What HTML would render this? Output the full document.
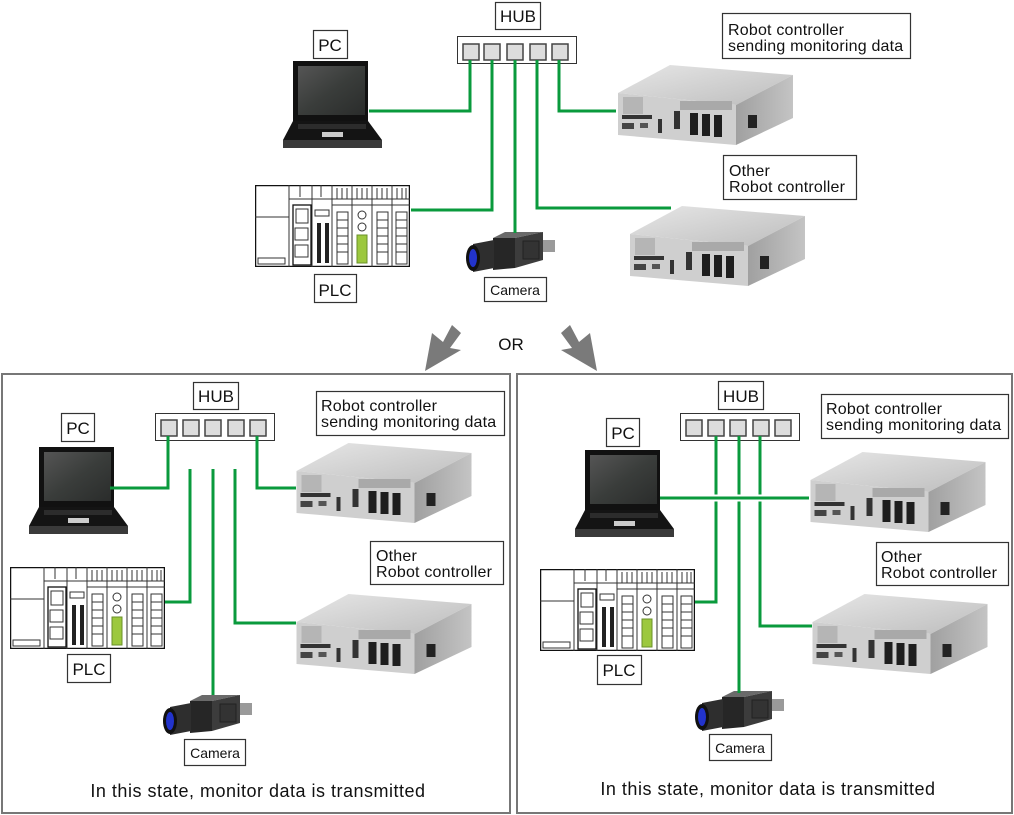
<!DOCTYPE html>
<html><head><meta charset="utf-8"><style>
html,body{margin:0;padding:0;background:#fff;}
svg{display:block;}
text{font-family:"Liberation Sans",sans-serif;fill:#111;}
</style></head><body>
<svg width="1014" height="815" viewBox="0 0 1014 815" xmlns="http://www.w3.org/2000/svg">
<defs>
<linearGradient id="gtop" x1="0" y1="0" x2="1" y2="1"><stop offset="0" stop-color="#e6e6e6"/><stop offset="1" stop-color="#bdbdbd"/></linearGradient>
<linearGradient id="gside" x1="0" y1="0" x2="1" y2="0"><stop offset="0" stop-color="#a0a0a0"/><stop offset="1" stop-color="#c4c4c4"/></linearGradient>
<linearGradient id="gscr" x1="0" y1="0" x2="1" y2="1"><stop offset="0" stop-color="#555"/><stop offset="0.5" stop-color="#3a3d3b"/><stop offset="1" stop-color="#2a2c2b"/></linearGradient>
<symbol id="robot" viewBox="0 0 175 82">
<polygon points="0,30 52,2 175,12 118,42" fill="url(#gtop)"/>
<polygon points="0,30 118,42 118,82 0,72" fill="#cfcfcf"/>
<polygon points="118,42 175,12 175,55 118,82" fill="url(#gside)"/>
<rect x="5" y="34" width="20" height="17" fill="#b5b5b5"/>
<rect x="62" y="38" width="52" height="9" fill="#a9a9a9"/>
<rect x="4" y="52" width="30" height="4" fill="#333"/>
<rect x="4" y="60" width="12" height="6" fill="#444"/>
<rect x="22" y="60" width="8" height="5" fill="#555"/>
<rect x="40" y="56" width="4" height="14" fill="#333"/>
<rect x="56" y="48" width="6" height="18" fill="#333"/>
<rect x="72" y="50" width="8" height="22" fill="#1e1e1e"/>
<rect x="84" y="51" width="8" height="22" fill="#1e1e1e"/>
<rect x="96" y="52" width="8" height="22" fill="#1e1e1e"/>
<rect x="130" y="52" width="9" height="13" fill="#222"/>
</symbol>
<symbol id="laptop" viewBox="0 0 104 90">
<rect x="13" y="3" width="75" height="60" fill="#111"/>
<rect x="18" y="8" width="67" height="49" fill="url(#gscr)"/>
<polygon points="13,63 88,63 102,82 3,82" fill="#141414"/>
<rect x="3" y="82" width="99" height="8" fill="#3a3a3a"/>
<rect x="42" y="74" width="21" height="5" fill="#ccc"/>
<rect x="18" y="66" width="68" height="5" fill="#2c2c2c"/>
</symbol>
<symbol id="plc" viewBox="0 0 155 82">
<rect x="0.5" y="0.5" width="154" height="81" fill="#fff" stroke="#111" stroke-width="1.5"/>
<g stroke="#333" stroke-width="1" fill="none">
<line x1="34" y1="0" x2="34" y2="82"/><line x1="57" y1="0" x2="57" y2="82"/><line x1="77" y1="0" x2="77" y2="82"/><line x1="97" y1="0" x2="97" y2="82"/><line x1="117" y1="0" x2="117" y2="82"/><line x1="137" y1="0" x2="137" y2="82"/>
<line x1="0" y1="32" x2="34" y2="32"/><rect x="3" y="73" width="27" height="6"/>
<line x1="34" y1="14" x2="155" y2="14"/><line x1="77" y1="20" x2="155" y2="20"/>
<line x1="45" y1="0" x2="45" y2="12"/><line x1="66" y1="0" x2="66" y2="12"/>
<line x1="82" y1="3" x2="82" y2="14"/><line x1="87" y1="3" x2="87" y2="14"/><line x1="92" y1="3" x2="92" y2="14"/><line x1="102" y1="3" x2="102" y2="14"/><line x1="107" y1="3" x2="107" y2="14"/><line x1="112" y1="3" x2="112" y2="14"/><line x1="122" y1="3" x2="122" y2="14"/><line x1="127" y1="3" x2="127" y2="14"/><line x1="132" y1="3" x2="132" y2="14"/><line x1="142" y1="3" x2="142" y2="14"/><line x1="147" y1="3" x2="147" y2="14"/><line x1="151" y1="3" x2="151" y2="14"/>
<rect x="38" y="20" width="18" height="60" stroke="#111" stroke-width="1.3"/>
<rect x="41" y="24" width="12" height="14"/><rect x="40" y="43" width="13" height="12"/><rect x="40" y="60" width="13" height="12"/>
<rect x="60" y="25" width="14" height="6"/>
<rect x="82" y="27" width="11" height="52"/><rect x="122" y="27" width="11" height="52"/><rect x="141" y="27" width="11" height="52"/>
<path d="M82 35h11M82 43h11M82 51h11M82 59h11M82 67h11M122 35h11M122 43h11M122 51h11M122 59h11M122 67h11M141 35h11M141 43h11M141 51h11M141 59h11M141 67h11"/>
<circle cx="107" cy="30" r="4"/><circle cx="107" cy="42" r="4"/>
</g>
<rect x="62" y="38" width="4" height="40" fill="#222"/><rect x="70" y="38" width="4" height="40" fill="#222"/>
<rect x="102" y="50" width="10" height="28" fill="#9cc83e" stroke="#6a8f2a"/>
</symbol>
<symbol id="cam" viewBox="0 0 93 40">
<polygon points="30,6 42,0 80,0 52,6" fill="#6a6a6a"/>
<polygon points="52,6 80,0 80,28 52,36" fill="#3c3c3c"/>
<polygon points="30,6 52,6 52,36 30,38" fill="#262626"/>
<rect x="60" y="9" width="16" height="18" fill="#333" stroke="#222"/>
<rect x="80" y="8" width="12" height="12" fill="#9a9a9a"/>
<polygon points="10,12 31,8 31,36 10,40" fill="#2e2e2e"/>
<ellipse cx="10" cy="26" rx="7" ry="13" fill="#111"/>
<ellipse cx="10" cy="26" rx="4" ry="9" fill="#2233cc"/>
</symbol>
</defs>

<g fill="#fff" stroke="#333" stroke-width="1.2">
<rect x="495.5" y="2.5" width="45" height="27"/>
<rect x="313.5" y="30.5" width="34" height="28"/>
<rect x="314.5" y="274.5" width="42" height="28"/>
<rect x="484.5" y="277.5" width="62" height="24"/>
<rect x="722.5" y="13.5" width="188" height="45"/>
<rect x="723.5" y="155.5" width="133" height="44"/>
</g>
<text x="518" y="22" font-size="17" text-anchor="middle">HUB</text>
<text x="330" y="51" font-size="17" text-anchor="middle">PC</text>
<text x="335" y="296" font-size="17" text-anchor="middle">PLC</text>
<text x="515" y="295" font-size="14" text-anchor="middle">Camera</text>
<text x="728" y="35" font-size="16" letter-spacing="0.2">Robot controller</text>
<text x="728" y="51" font-size="16" letter-spacing="0.2">sending monitoring data</text>
<text x="729" y="176" font-size="16" letter-spacing="0.2">Other</text>
<text x="729" y="192" font-size="16" letter-spacing="0.2">Robot controller</text>

<rect x="457.5" y="36.5" width="119" height="27" fill="#fff" stroke="#333"/>
<g fill="#ddd" stroke="#444" stroke-width="1.5">
<rect x="463" y="44" width="16" height="16"/><rect x="484" y="44" width="16" height="16"/><rect x="507" y="44" width="16" height="16"/><rect x="530" y="44" width="16" height="16"/><rect x="552" y="44" width="16" height="16"/>
</g>
<use href="#laptop" x="280" y="58" width="104" height="90"/>
<use href="#plc" x="255" y="185" width="155" height="82"/>
<use href="#cam" x="463" y="232" width="93" height="40"/>
<use href="#robot" x="618" y="63" width="175" height="82"/>
<use href="#robot" x="630" y="204" width="175" height="82"/>
<g stroke="#0a9a3c" stroke-width="3" fill="none">
<polyline points="470,60 470,111 369,111"/>
<polyline points="492,60 492,210 411,210"/>
<polyline points="515,60 515,233"/>
<polyline points="537,60 537,208 671,208"/>
<polyline points="559,60 559,111 616,111"/>
</g>

<polygon points="425,371 432,333 443,342 452,325 461,333 450,348 461,350" fill="#7a7a7a"/>
<polygon points="597,371 590,333 579,342 570,325 561,333 572,348 561,350" fill="#7a7a7a"/>
<text x="511" y="350" font-size="17" text-anchor="middle">OR</text>

<rect x="2" y="374" width="508" height="439" fill="none" stroke="#777" stroke-width="2"/>
<rect x="517" y="374" width="495" height="439" fill="none" stroke="#777" stroke-width="2"/>

<!-- left panel -->
<g fill="#fff" stroke="#333" stroke-width="1.2">
<rect x="193.5" y="382.5" width="45" height="27"/>
<rect x="61.5" y="413.5" width="33" height="28"/>
<rect x="67.5" y="654.5" width="43" height="28"/>
<rect x="184.5" y="739.5" width="61" height="26"/>
<rect x="316.5" y="391.5" width="188" height="44"/>
<rect x="370.5" y="541.5" width="133" height="43"/>
</g>
<text x="216" y="402" font-size="17" text-anchor="middle">HUB</text>
<text x="78" y="434" font-size="17" text-anchor="middle">PC</text>
<text x="89" y="675" font-size="17" text-anchor="middle">PLC</text>
<text x="215" y="758" font-size="14" text-anchor="middle">Camera</text>
<text x="321" y="411" font-size="16" letter-spacing="0.2">Robot controller</text>
<text x="321" y="427" font-size="16" letter-spacing="0.2">sending monitoring data</text>
<text x="376" y="561" font-size="16" letter-spacing="0.2">Other</text>
<text x="376" y="577" font-size="16" letter-spacing="0.2">Robot controller</text>
<text x="258" y="797" font-size="18" letter-spacing="0.5" text-anchor="middle">In this state, monitor data is transmitted</text>
<rect x="155.5" y="413.5" width="119" height="27" fill="#fff" stroke="#333"/>
<g fill="#ddd" stroke="#444" stroke-width="1.5">
<rect x="161" y="420" width="16" height="16"/><rect x="183" y="420" width="16" height="16"/><rect x="205" y="420" width="16" height="16"/><rect x="228" y="420" width="16" height="16"/><rect x="250" y="420" width="16" height="16"/>
</g>
<use href="#laptop" x="26" y="444" width="104" height="90"/>
<use href="#plc" x="10" y="567" width="155" height="82"/>
<use href="#cam" x="160" y="695" width="93" height="40"/>
<use href="#robot" x="295" y="441" width="178" height="82"/>
<use href="#robot" x="295" y="592" width="178" height="82"/>
<g stroke="#0a9a3c" stroke-width="3" fill="none">
<polyline points="168,436 168,488 110,488"/>
<polyline points="257,436 257,488 296,488"/>
<polyline points="190,469 190,602 165,602"/>
<polyline points="213,469 213,695"/>
<polyline points="235,469 235,623 296,623"/>
</g>

<!-- right panel -->
<g fill="#fff" stroke="#333" stroke-width="1.2">
<rect x="718.5" y="381.5" width="45" height="28"/>
<rect x="606.5" y="418.5" width="33" height="28"/>
<rect x="597.5" y="655.5" width="44" height="29"/>
<rect x="709.5" y="734.5" width="62" height="26"/>
<rect x="821.5" y="394.5" width="187" height="44"/>
<rect x="876.5" y="542.5" width="132" height="43"/>
</g>
<text x="741" y="402" font-size="17" text-anchor="middle">HUB</text>
<text x="623" y="439" font-size="17" text-anchor="middle">PC</text>
<text x="619" y="676" font-size="17" text-anchor="middle">PLC</text>
<text x="740" y="753" font-size="14" text-anchor="middle">Camera</text>
<text x="826" y="414" font-size="16" letter-spacing="0.2">Robot controller</text>
<text x="826" y="430" font-size="16" letter-spacing="0.2">sending monitoring data</text>
<text x="881" y="562" font-size="16" letter-spacing="0.2">Other</text>
<text x="881" y="578" font-size="16" letter-spacing="0.2">Robot controller</text>
<text x="768" y="795" font-size="18" letter-spacing="0.5" text-anchor="middle">In this state, monitor data is transmitted</text>
<rect x="680.5" y="413.5" width="119" height="27" fill="#fff" stroke="#333"/>
<g fill="#ddd" stroke="#444" stroke-width="1.5">
<rect x="686" y="420" width="16" height="16"/><rect x="708" y="420" width="16" height="16"/><rect x="730" y="420" width="16" height="16"/><rect x="753" y="420" width="16" height="16"/><rect x="775" y="420" width="16" height="16"/>
</g>
<use href="#laptop" x="572" y="447" width="104" height="90"/>
<use href="#plc" x="540" y="569" width="155" height="82"/>
<use href="#cam" x="692" y="691" width="93" height="40"/>
<use href="#robot" x="809" y="450" width="178" height="82"/>
<use href="#robot" x="811" y="592" width="178" height="82"/>
<g stroke="#0a9a3c" stroke-width="3" fill="none">
<polyline points="716,436 716,602 695,602"/>
<polyline points="739,436 739,693"/>
<polyline points="760,436 760,626 812,626"/>
</g>
<line x1="660" y1="498" x2="809" y2="498" stroke="#fff" stroke-width="7"/>
<line x1="660" y1="498" x2="809" y2="498" stroke="#0a9a3c" stroke-width="3"/>
</svg>
</body></html>
